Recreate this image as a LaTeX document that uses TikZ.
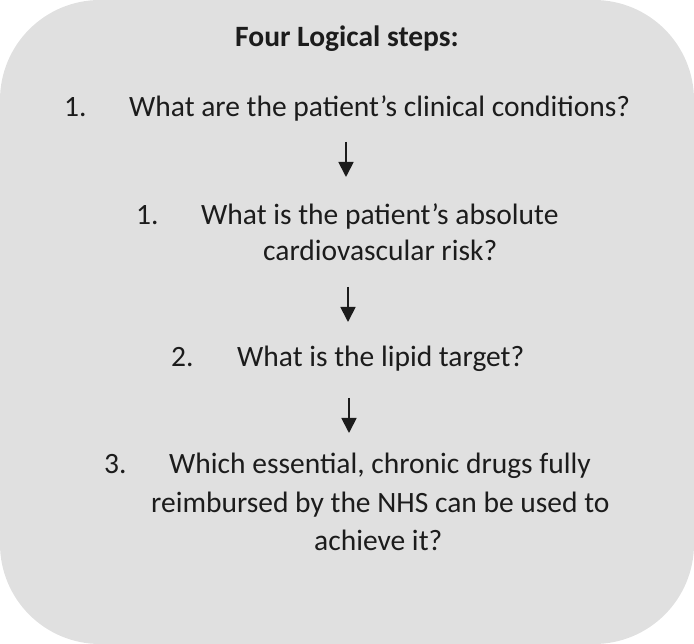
\documentclass[tikz,border=0pt]{standalone}
\usepackage{fontspec}
\setmainfont{Carlito}
\usetikzlibrary{arrows.meta}
\definecolor{boxgray}{HTML}{E0E0E0}
\definecolor{ink}{HTML}{1C1C1C}
\begin{document}
\begin{tikzpicture}[x=1pt,y=-1pt,
  txt/.style={anchor=base west, inner sep=0pt, font=\fontsize{29.5}{34}\selectfont, text=ink},
  ttl/.style={anchor=base, inner sep=0pt, font=\bfseries\fontsize{29.5}{34}\selectfont, text=ink},
  flow/.style={draw=ink, line width=1.8pt, -{Triangle[width=15pt,length=15pt]}}]
\useasboundingbox (0,0) rectangle (694,644);
\fill[boxgray, rounded corners=100pt] (0,0) rectangle (694,644);
\node[ttl] (title) at (347,47) {Four Logical steps:};
\node[txt] (n1) at (64,117) {1.};
\node[txt] (q1) at (129,117) {What are the patient’s clinical conditions?};
\node[txt] (n2) at (136,225) {1.};
\node[txt] (q2a) at (201,225) {What is the patient’s absolute};
\node[txt] (q2b) at (263,261) {cardiovascular risk?};
\node[txt] (n3) at (171,367) {2.};
\node[txt] (q3) at (237,367) {What is the lipid target?};
\node[txt] (n4) at (104,473) {3.};
\node[txt] (q4a) at (169,473) {Which essential, chronic drugs fully};
\node[txt] (q4b) at (151,512) {reimbursed by the NHS can be used to};
\node[txt] (q4c) at (314,550) {achieve it?};
\coordinate (a1s) at (346,142); \coordinate (a1e) at (346,177);
\coordinate (a2s) at (348,287); \coordinate (a2e) at (348,322);
\coordinate (a3s) at (349,398); \coordinate (a3e) at (349,433);
\draw[flow] (a1s) -- (a1e);
\draw[flow] (a2s) -- (a2e);
\draw[flow] (a3s) -- (a3e);
\end{tikzpicture}
\end{document}
